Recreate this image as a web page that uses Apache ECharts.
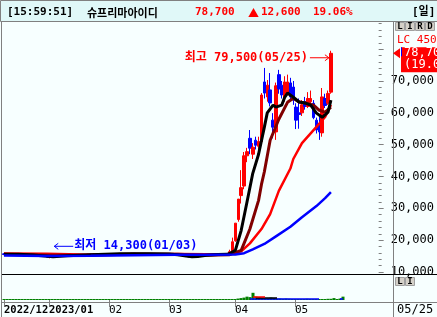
<!DOCTYPE html>
<html><head><meta charset="utf-8">
<script src="https://cdn.jsdelivr.net/npm/echarts@6/dist/echarts.min.js"></script>
<style>html,body{margin:0;padding:0;background:#f7ffff;}#c{width:437px;height:317px;}</style>
</head><body><div id="c"></div>
<script>
// ---- dates (trading days) ----
const dec22 = [9,12,13,14,15,16,19,20,21,22,23,26,27,28,29];
const jan23 = [2,3,4,5,6,9,10,11,12,13,16,17,18,19,20,25,26,27,30,31];
const feb23 = [1,2,3,6,7,8,9,10,13,14,15,16,17,20,21,22,23,24,27,28];
const mar23 = [2,3,6,7,8,9,10,13,14,15,16,17,20,21,22,23,24,27,28,29,30,31];
const apr23 = [3,4,5,6,7,10,11,12,13,14,17,18,19,20,21,24,25,26,27,28];
const may23 = [2,3,4,8,9,10,11,12,15,16,17,18,19,22,23,24,25];
const emptySlots = 16;

// ---- month tick labels ----
const monthTickIdx = [0,15,35,55,77,97];
const monthTickLabels = ['2022/12','2023/01','02','03','04','05'];
const boldTickLabels = [true,true,false,false,false,false];

// ---- OHLC [open, close, low, high] ----
const candles = [
[15700,15500,15350,15900],[15500,15600,15300,15750],[15600,15450,15350,15800],[15450,15650,15400,15850],
[15650,15500,15400,15750],[15500,15400,15250,15600],[15400,15550,15300,15650],[15550,15450,15350,15700],
[15450,15300,15200,15550],[15300,15350,15150,15500],[15350,15200,15100,15450],[15200,15250,15050,15400],
[15250,15100,14950,15350],[15100,15000,14850,15200],[15000,14850,14700,15100],
[14850,14650,14500,14900],[14600,14800,14300,14850],[14800,14900,14650,15000],[14900,15050,14800,15150],
[15050,14950,14850,15150],[14950,15100,14900,15250],[15100,15200,15000,15300],[15200,15150,15050,15350],
[15150,15300,15100,15400],[15300,15250,15150,15450],[15250,15400,15200,15500],[15400,15350,15250,15550],
[15350,15500,15300,15650],[15500,15450,15350,15600],[15450,15600,15400,15700],[15600,15550,15450,15750],
[15550,15650,15500,15800],[15650,15600,15500,15750],[15600,15700,15550,15850],[15700,15650,15550,15800],
[15650,15800,15600,15950],[15800,15700,15600,15900],[15700,15750,15600,15850],[15750,15650,15550,15800],
[15650,15700,15550,15800],[15700,15800,15650,15950],[15800,15750,15650,15900],[15750,15650,15550,15800],
[15650,15700,15600,15800],[15700,15850,15650,16000],[15850,15750,15650,15950],[15750,15700,15600,15850],
[15700,15800,15650,15900],[15800,15700,15600,15850],[15700,15650,15550,15800],[15650,15750,15600,15850],
[15750,15700,15600,15800],[15700,15600,15500,15750],[15600,15650,15500,15750],[15650,15600,15500,15700],
[15600,15700,15550,15800],[15700,15650,15550,15750],[15650,15550,15450,15700],[15550,15600,15450,15700],
[15600,15500,15400,15650],[15500,15350,15250,15550],[15350,15200,15100,15400],[15200,15000,14900,15250],
[15000,14850,14700,15050],[14850,14750,14600,14900],[14750,14800,14650,14900],[14800,14900,14700,15000],
[14900,15100,14850,15200],[15100,15300,15050,15400],[15300,15400,15200,15500],[15400,15500,15350,15600],
[15500,15450,15350,15600],[15450,15550,15400,15650],[15550,15500,15400,15650],[15500,15600,15450,15700],
[15600,15550,15450,15700],[15550,15600,15450,15700],
[15500,15700,15400,15900],[15700,16400,15600,17000],[16400,19500,16200,20800],[19800,25350,19500,25350],
[26500,32900,25800,32950],[34000,36500,31500,42000],[37000,46500,36000,47700],[46500,47800,44500,49000],
[52000,48900,47000,54600],[47000,49200,45500,50500],[51400,49800,48500,52500],[49500,51000,48000,52500],
[51000,65600,50000,66200],[69700,66200,64500,74100],[65000,68700,63500,70300],[67200,63100,62000,72500],
[57700,55500,52000,59900],[54000,68500,51500,69500],[72000,67500,66000,73500],[68700,65600,64500,70000],
[64700,69700,63500,71500],[66200,69700,65500,72000],[69400,65000,64000,71000],[68100,64000,62500,70000],
[61800,57700,54900,63000],[60000,59500,55000,64500],[60000,62500,59000,64000],[63500,62000,61000,65000],
[62000,64500,61500,66500],[63500,64500,62500,67000],[63000,58500,58000,64000],[57700,54600,53500,58500],
[56000,54000,51500,58700],[53700,65000,52500,67800],[64500,62300,61500,66000],[63000,66100,62500,67000],
[66500,78700,66000,79500]
];

// ---- volume (relative units) ----
const volumes = [
3,3,3,3,3,3,3,3,3,3,3,3,3,3,3,
3,3,3,3,3,3,3,3,3,3,3,3,3,3,3,3,3,3,3,3,
3,3,3,3,3,3,3,3,3,3,3,3,3,3,3,3,3,3,3,3,
3,3,3,3,3,3,3,3,3,3,3,3,3,3,3,3,3,3,3,3,3,3,
3,6,8,10,14,12,30,14,12,8,6,6,10,8,6,6,5,6,5,4,
4,4,3,4,5,4,3,3,3,3,4,5,5,8,4,6,14
];

// ---- moving averages: [index, price] ----
const ma5 = [[0,15600],[5,15550],[10,15350],[14,15050],[17,14800],[22,15100],[30,15450],[40,15700],[50,15700],
  [57,15650],[60,15450],[63,15050],[65,14800],[67,14850],[70,15250],[74,15500],[77,15550],[78,15800],
  [80,16850],[82,23100],[84,32000],[86,41000],[88,47000],[90,55500],[91,60000],[93,62400],[94,61800],
  [96,62400],[97,64800],[98,66200],[100,64900],[102,63400],[104,63100],[106,62400],[108,59900],[110,58600],
  [112,60200],[113,64000]];
const ma20 = [[0,15550],[15,15300],[30,15250],[45,15650],[60,15600],[70,15250],[78,15450],[82,16800],
  [85,23500],[88,32500],[89,37500],[90,41500],[92,51400],[95,58000],[98,63300],[100,64600],[102,63400],
  [104,63100],[107,62400],[109,60800],[111,60200],[113,61800]];
const ma60 = [[0,15850],[15,15700],[30,15450],[45,15500],[60,15650],[70,15550],[78,15600],[82,16500],
  [85,19000],[89,23500],[92,28200],[95,35500],[99,42500],[100,45500],[103,50500],[108,55600],[111,58700],[113,62500]];
const ma120 = [[0,15150],[15,15050],[30,15100],[45,15300],[60,15400],[70,15450],[80,15500],[83,15900],
  [86,17100],[90,18800],[94,21200],[99,24200],[103,27200],[108,30700],[111,33200],[113,35100]];

// ---- volume moving averages (visible parts) ----
const volMa5 = [[83,12],[87,12]];
const volMa20 = [[84,8],[91,8]];
const volMa60 = [[82,4],[105,4],[106,'-'],[112,4],[113,4]];

// ---- header / annotations ----
const headerTime = '[15:59:51]';
const stockName = '슈프리마아이디';
const lastPrice = 78700;
const changeAbs = '12,600';
const changePct = '19.06%';
const highInfo = {idx: 113, price: 79500, text: '최고 79,500(05/25)'};
const lowInfo = {idx: 16, price: 14300, text: '최저 14,300(01/03)'};
const yMin = 10000, yMax = 90000, yStep = 10000;

// ---- build ----
const pad = d => (d < 10 ? '0' : '') + d;
const dates = [].concat(
  dec22.map(d => '2022/12/' + pad(d)), jan23.map(d => '2023/01/' + pad(d)),
  feb23.map(d => '2023/02/' + pad(d)), mar23.map(d => '2023/03/' + pad(d)),
  apr23.map(d => '2023/04/' + pad(d)), may23.map(d => '2023/05/' + pad(d)));
const categories = dates.concat(Array.from({length: emptySlots}, (_, k) => '_' + k));
const labelMap = {};
monthTickIdx.forEach((ix, k) => { labelMap[ix] = (boldTickLabels[k] ? '{b|' : '{n|') + monthTickLabels[k] + '}'; });

const FONT = '"DejaVu Sans Mono", "Noto Sans CJK KR", monospace';
const KFONT = '"Noto Sans CJK KR", sans-serif';
const GRAY = '#808080';

const chart = echarts.init(document.getElementById('c'), null, {renderer: 'canvas'});
const gridL = 2.5, gridR = 44.5;
chart.setOption({
  animation: false,
  backgroundColor: '#f7ffff',
  grid: [
    {left: gridL, right: gridR, top: 17.33, bottom: 45},
    {left: gridL, right: gridR, top: 276, bottom: 17}
  ],
  xAxis: [
    {type: 'category', gridIndex: 0, data: categories, boundaryGap: true, show: false},
    {type: 'category', gridIndex: 1, data: categories, boundaryGap: true, offset: 2,
      axisLine: {show: false},
      axisTick: {show: true, alignWithLabel: true, length: 7, interval: (i) => labelMap[i] !== undefined, lineStyle: {color: GRAY}},
      axisLabel: {show: true, interval: (i) => labelMap[i] !== undefined, formatter: (v, i) => labelMap[i] || '',
        align: 'left', margin: 3, color: '#000', fontFamily: FONT,
        rich: {b: {fontWeight: 'bold', fontSize: 10.5, fontFamily: FONT, color: '#000'},
               n: {fontSize: 11, fontFamily: FONT, color: '#000'}}}}
  ],
  yAxis: [
    {type: 'value', gridIndex: 0, position: 'right', min: yMin, max: yMax, interval: yStep,
      axisLine: {show: false}, splitLine: {show: false},
      axisTick: {show: true, length: 5, lineStyle: {color: GRAY}},
      minorTick: {show: true, splitNumber: 5, length: 3, lineStyle: {color: GRAY}},
      axisLabel: {margin: 12, color: '#000', fontSize: 12, fontFamily: FONT,
        formatter: v => (v >= 80000 ? '' : v.toLocaleString('en-US'))}},
    {type: 'value', gridIndex: 1, min: 0, max: 100, show: false}
  ],
  series: [
    {type: 'candlestick', xAxisIndex: 0, yAxisIndex: 0, data: candles, barWidth: 3, z: 2,
      itemStyle: {color: '#ff0000', color0: '#0000ff', borderColor: '#ff0000', borderColor0: '#0000ff', borderWidth: 1}},
    {type: 'line', xAxisIndex: 0, yAxisIndex: 0, data: ma60, showSymbol: false, z: 3, lineStyle: {color: '#ff0000', width: 2.5}},
    {type: 'line', xAxisIndex: 0, yAxisIndex: 0, data: ma20, showSymbol: false, z: 3, lineStyle: {color: '#800000', width: 3}},
    {type: 'line', xAxisIndex: 0, yAxisIndex: 0, data: ma5, showSymbol: false, z: 3, lineStyle: {color: '#000000', width: 3}},
    {type: 'line', xAxisIndex: 0, yAxisIndex: 0, data: ma120, showSymbol: false, z: 3, lineStyle: {color: '#0000ff', width: 2.5}},
    {type: 'bar', xAxisIndex: 1, yAxisIndex: 1, data: volumes, barWidth: 3, barMinHeight: 1, itemStyle: {color: '#008000'}},
    {type: 'line', xAxisIndex: 1, yAxisIndex: 1, data: volMa60, showSymbol: false, lineStyle: {color: '#0000ff', width: 1.5}},
    {type: 'line', xAxisIndex: 1, yAxisIndex: 1, data: volMa20, showSymbol: false, lineStyle: {color: '#000000', width: 1.5}},
    {type: 'line', xAxisIndex: 1, yAxisIndex: 1, data: volMa5, showSymbol: false, lineStyle: {color: '#ff0000', width: 1.5}}
  ]
});

const pHigh = chart.convertToPixel({xAxisIndex: 0, yAxisIndex: 0}, [highInfo.idx, highInfo.price]);
const pLow = chart.convertToPixel({xAxisIndex: 0, yAxisIndex: 0}, [lowInfo.idx, lowInfo.price]);
const pLast = chart.convertToPixel({xAxisIndex: 0, yAxisIndex: 0}, [highInfo.idx, lastPrice]);

const g = [];
// header
g.push({type: 'rect', shape: {x: 0.5, y: 0.5, width: 437, height: 21}, style: {fill: '#e0f8f8', stroke: GRAY, lineWidth: 1}, z: 100});
const ht = (x, text, color, font) => g.push({type: 'text', x: x, y: 12.5, z: 101,
  style: {text: text, fill: color, font: 'bold 11px ' + (font || FONT), textVerticalAlign: 'middle', textAlign: 'left'}});
ht(7, headerTime, '#000');
ht(87, stockName, '#000', KFONT);
ht(195, lastPrice.toLocaleString('en-US'), '#ff0000');
ht(248, '▲', '#ff0000', KFONT);
ht(261, changeAbs, '#ff0000');
ht(313, changePct, '#ff0000');
ht(412, '[일]', '#000');
// frame lines
g.push({type: 'line', shape: {x1: 1.5, y1: 22, x2: 1.5, y2: 317}, style: {stroke: GRAY, lineWidth: 1}, z: 50});
g.push({type: 'line', shape: {x1: 393.5, y1: 22, x2: 393.5, y2: 317}, style: {stroke: GRAY, lineWidth: 1}, z: 50});
g.push({type: 'line', shape: {x1: 2, y1: 274.5, x2: 437, y2: 274.5}, style: {stroke: '#000', lineWidth: 1}, z: 50});
g.push({type: 'line', shape: {x1: 2, y1: 302.5, x2: 437, y2: 302.5}, style: {stroke: GRAY, lineWidth: 1}, z: 50});
// buttons
const btn = (x, y, letter) => {
  g.push({type: 'rect', shape: {x: x + 0.5, y: y + 0.5, width: 9, height: 8}, style: {fill: '#d4d0c8', stroke: '#a0a0a0', lineWidth: 1}, z: 60});
  g.push({type: 'text', x: x + 5, y: y + 5, z: 61, style: {text: letter, fill: '#000', font: 'bold 9px ' + FONT, textAlign: 'center', textVerticalAlign: 'middle'}});
};
['L','I','R','D'].forEach((c, k) => btn(395 + k * 10, 22, c));
['L','I'].forEach((c, k) => btn(395 + k * 10, 277, c));
g.push({type: 'text', x: 397, y: 40, z: 61, style: {text: 'LC 450', fill: '#ff0000', font: '11px ' + FONT, textVerticalAlign: 'middle'}});
// last price tag
const ly = pLast[1];
g.push({type: 'polygon', shape: {points: [[393, ly], [400, ly - 5], [400, ly + 5]]}, style: {fill: '#ff0000'}, z: 60});
g.push({type: 'rect', shape: {x: 401, y: ly - 6, width: 36, height: 25}, style: {fill: '#ff0000'}, z: 60});
g.push({type: 'line', shape: {x1: 401.5, y1: ly - 6, x2: 401.5, y2: ly + 3}, style: {stroke: '#0000ff', lineWidth: 1}, z: 61});
g.push({type: 'text', x: 404, y: ly, z: 61, style: {text: lastPrice.toLocaleString('en-US'), fill: '#fff', font: '12px ' + FONT, textVerticalAlign: 'middle'}});
g.push({type: 'text', x: 404, y: ly + 12, z: 61, style: {text: '(' + changePct.replace('%', ''), fill: '#fff', font: '12px ' + FONT, textVerticalAlign: 'middle'}});
// date at bottom right
g.push({type: 'text', x: 397, y: 310, z: 61, style: {text: dates[dates.length - 1].slice(5), fill: '#000', font: '12px ' + FONT, textVerticalAlign: 'middle'}});
// high annotation
const hy = pHigh[1] + 7, hx = pHigh[0] - 2;
g.push({type: 'text', x: hx - 21, y: hy, z: 1, style: {text: highInfo.text, fill: '#ff0000', font: 'bold 12px ' + FONT, textAlign: 'right', textVerticalAlign: 'middle'}});
g.push({type: 'polyline', shape: {points: [[hx - 19, hy], [hx, hy]]}, style: {stroke: '#ff0000', lineWidth: 1}, z: 1});
g.push({type: 'polyline', shape: {points: [[hx - 4, hy - 3], [hx, hy], [hx - 4, hy + 3]]}, style: {stroke: '#ff0000', lineWidth: 1, fill: null}, z: 1});
// low annotation
const ly2 = pLow[1] - 12, lx = pLow[0] + 4;
g.push({type: 'polyline', shape: {points: [[lx, ly2], [lx + 19, ly2]]}, style: {stroke: '#0000ff', lineWidth: 1}, z: 1});
g.push({type: 'polyline', shape: {points: [[lx + 4, ly2 - 3], [lx, ly2], [lx + 4, ly2 + 3]]}, style: {stroke: '#0000ff', lineWidth: 1, fill: null}, z: 1});
g.push({type: 'text', x: lx + 20, y: ly2, z: 1, style: {text: lowInfo.text, fill: '#0000ff', font: 'bold 12px ' + FONT, textAlign: 'left', textVerticalAlign: 'middle'}});

chart.setOption({graphic: g});
</script></body></html>
